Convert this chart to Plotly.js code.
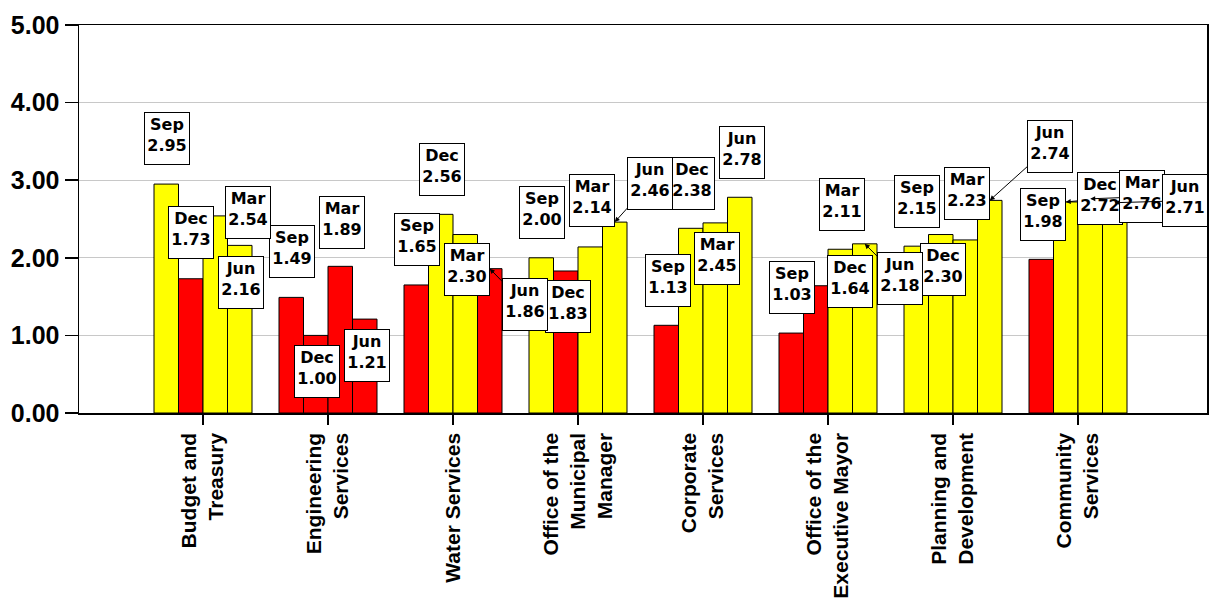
<!DOCTYPE html>
<html>
<head>
<meta charset="utf-8">
<script src="https://cdn.plot.ly/plotly-3.0.1.min.js"></script>
<style>
  html, body { margin: 0; padding: 0; background: #ffffff; }
  #chart { width: 1211px; height: 603px; }
</style>
</head>
<body>
<div id="chart"></div>
<script>
// Departments on the category axis
const categories = [
  'Budget and<br>Treasury',
  'Engineering<br>Services',
  'Water Services',
  'Office of the<br>Municipal<br>Manager',
  'Corporate<br>Services',
  'Office of the<br>Executive Mayor',
  'Planning and<br>Development',
  'Community<br>Services'
];

// Quarter names and scores per department
const quarters = ['Sep', 'Dec', 'Mar', 'Jun'];
const sepValues = [2.95, 1.49, 1.65, 2.00, 1.13, 1.03, 2.15, 1.98];
const decValues = [1.73, 1.00, 2.56, 1.83, 2.38, 1.64, 2.30, 2.72];
const marValues = [2.54, 1.89, 2.30, 2.14, 2.45, 2.11, 2.23, 2.76];
const junValues = [2.16, 1.21, 1.86, 2.46, 2.78, 2.18, 2.74, 2.71];
const series = [sepValues, decValues, marValues, junValues];

// Tick labels on the value axis
const yTickValues = [0, 1, 2, 3, 4, 5];
const yTickLabels = ['0.00', '1.00', '2.00', '3.00', '4.00', '5.00'];

// Scores below this are shown in red, others in yellow
const target = 2.0;
const colorBelow = '#ff0000';
const colorAbove = '#ffff00';

// Label box placement, pixel offset [dx, dy] of box centre from the bar top
const labelOffsets = [
  [[1, -46], [1, -46], [1, -45], [1, -45], [2, -45], [1, -46], [1, -45], [2, -45]],
  [[0, -46], [1, 36], [1, -45], [2, 36], [1, -45], [34, -4], [2, 35], [34, -3]],
  [[33, -3], [2, -44], [2, 35], [2, -46], [2, 36], [2, -45], [2, -46], [52, -2]],
  [[1, 37], [2, 36], [35, 36], [35, -39], [2, -45], [35, 35], [60, -54], [70, -2]]
];
// Labels connected to their bar by a leader arrow: [quarter, department]
const leaderLabels = [[3, 2], [3, 3], [3, 5], [3, 6], [1, 7], [2, 7], [3, 7]];

const bargap = 0.216;
const barSlot = (1 - bargap) / quarters.length;

const traces = series.map((vals, q) => ({
  type: 'bar',
  name: quarters[q],
  x: categories,
  y: vals,
  marker: {
    color: vals.map(v => (v < target ? colorBelow : colorAbove)),
    line: { color: '#000000', width: 1 }
  },
  hoverinfo: 'x+y+name'
}));

const isLeader = (q, i) => leaderLabels.some(p => p[0] === q && p[1] === i);

const annotations = [];
series.forEach((vals, q) => {
  vals.forEach((v, i) => {
    const [dx, dy] = labelOffsets[q][i];
    const base = {
      xref: 'x', yref: 'y',
      x: i + (q - (quarters.length - 1) / 2) * barSlot,
      y: v,
      text: quarters[q] + '<br>' + v.toFixed(2),
      font: { family: 'DejaVu Sans', size: 16, color: '#000000', weight: 'bold' },
      align: 'center',
      valign: 'top',
      width: 40,
      height: 47,
      bgcolor: '#ffffff',
      bordercolor: '#000000',
      borderwidth: 1,
      borderpad: 2
    };
    if (isLeader(q, i)) {
      Object.assign(base, {
        showarrow: true, ax: dx, ay: dy,
        arrowhead: 2, arrowsize: 1, arrowwidth: 1, arrowcolor: '#000000'
      });
    } else {
      Object.assign(base, { showarrow: false, xshift: dx, yshift: -dy });
    }
    annotations.push(base);
  });
});

const layout = {
  width: 1211,
  height: 603,
  margin: { l: 79, r: 4, t: 25, b: 190 },
  paper_bgcolor: '#ffffff',
  plot_bgcolor: '#ffffff',
  showlegend: false,
  barmode: 'group',
  bargap: bargap,
  bargroupgap: 0,
  xaxis: {
    type: 'category',
    range: [-0.992, 8.032],
    showgrid: false,
    showline: true,
    linecolor: '#000000',
    linewidth: 1.5,
    mirror: true,
    ticks: 'outside',
    ticklen: 10,
    tickwidth: 1.5,
    tickcolor: '#000000',
    tickangle: -90,
    tickfont: { family: 'Liberation Sans, Arial, sans-serif', size: 21, color: '#000000', weight: 'bold' }
  },
  yaxis: {
    range: [0, 5],
    tickmode: 'array',
    tickvals: yTickValues,
    ticktext: yTickLabels,
    showgrid: true,
    gridcolor: '#c8c8c8',
    gridwidth: 1,
    zeroline: false,
    showline: true,
    linecolor: '#000000',
    linewidth: 1.5,
    mirror: true,
    ticks: 'outside',
    ticklen: 13,
    tickwidth: 1.5,
    tickcolor: '#000000',
    tickfont: { family: 'Liberation Sans, Arial, sans-serif', size: 25, color: '#000000', weight: 'bold' }
  },
  annotations: annotations
};

Plotly.newPlot('chart', traces, layout, { displayModeBar: false, staticPlot: true });
</script>
</body>
</html>
